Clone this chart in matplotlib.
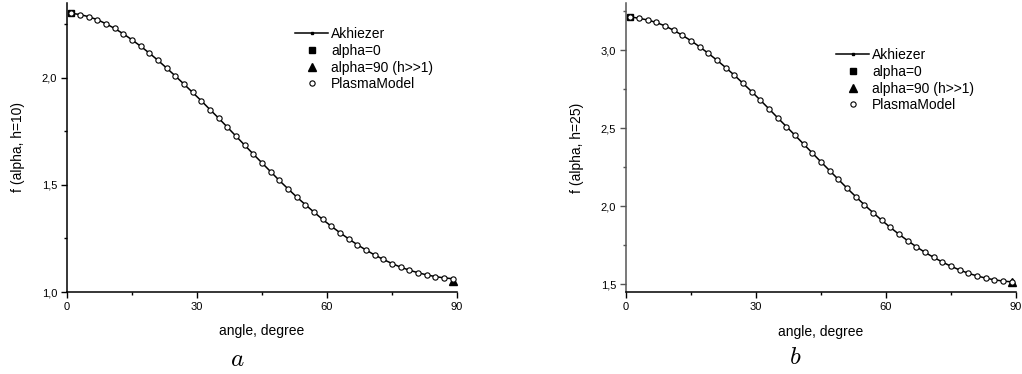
"""Two panels: f(alpha, h) vs angle for h=10 and h=25."""
import matplotlib
matplotlib.use("Agg")
import matplotlib.pyplot as plt
import numpy as np

plt.rcParams["font.family"] = ["Liberation Sans", "DejaVu Sans"]

# angles of the computed points (degrees)
angle = [1, 3, 5, 7, 9, 11, 13, 15, 17, 19, 21, 23, 25, 27, 29, 31, 33, 35,
         37, 39, 41, 43, 45, 47, 49, 51, 53, 55, 57, 59, 61, 63, 65, 67, 69,
         71, 73, 75, 77, 79, 81, 83, 85, 87, 89]

# h = 10 (Akhiezer and PlasmaModel coincide on the picture)
akh_h10 = [2.302, 2.296, 2.286, 2.272, 2.253, 2.231, 2.206, 2.178, 2.148,
           2.116, 2.082, 2.046, 2.009, 1.971, 1.932, 1.893, 1.852, 1.812,
           1.770, 1.728, 1.686, 1.644, 1.603, 1.562, 1.521, 1.482, 1.444,
           1.408, 1.373, 1.339, 1.307, 1.277, 1.248, 1.221, 1.196, 1.173,
           1.152, 1.133, 1.116, 1.102, 1.090, 1.080, 1.072, 1.066, 1.062]
plasma_h10 = list(akh_h10)

# h = 25
akh_h25 = [3.213, 3.204, 3.193, 3.177, 3.155, 3.127, 3.095, 3.060, 3.021,
           2.979, 2.935, 2.888, 2.839, 2.787, 2.734, 2.679, 2.623, 2.566,
           2.510, 2.454, 2.397, 2.340, 2.283, 2.227, 2.171, 2.115, 2.061,
           2.008, 1.958, 1.909, 1.863, 1.819, 1.778, 1.739, 1.703, 1.671,
           1.641, 1.614, 1.590, 1.569, 1.552, 1.538, 1.527, 1.519, 1.514]
plasma_h25 = list(akh_h25)

# limiting cases
alpha0_x, alpha0_h10, alpha0_h25 = [1], [2.305], [3.215]
alpha90_x, alpha90_h10, alpha90_h25 = [89], [1.052], [1.511]

x_ticks = [0, 30, 60, 90]
x_ticklabels = ["0", "30", "60", "90"]
y_ticks_h10 = [1.0, 1.5, 2.0]
y_ticklabels_h10 = ["1,0", "1,5", "2,0"]
y_ticks_h25 = [1.5, 2.0, 2.5, 3.0]
y_ticklabels_h25 = ["1,5", "2,0", "2,5", "3,0"]

W, H = 1022, 374
fig = plt.figure(figsize=(W / 100, H / 100), dpi=100)


def panel(rect, akh, plasma, a0, a90, ylim, yt, ytl, ylabel, leg_xy,
          letter_xy, letter, yspine_color="black"):
    ax = fig.add_axes(rect)
    ax.plot(angle, akh, color="black", linewidth=1.1, marker="s", markersize=1.5,
            label="Akhiezer", clip_on=False, zorder=2)
    ax.plot(alpha0_x, a0, linestyle="none", marker="s", markersize=5, color="black",
            label="alpha=0", clip_on=False, zorder=3)
    ax.plot(alpha90_x, a90, linestyle="none", marker="^", markersize=5.5, color="black",
            label="alpha=90 (h>>1)", clip_on=False, zorder=3)
    ax.plot(angle, plasma, linestyle="none", marker="o", markersize=3.8,
            markerfacecolor="white", markeredgecolor="black", markeredgewidth=0.8,
            label="PlasmaModel", clip_on=False, zorder=4)

    ax.set_xlim(0, 90)
    ax.set_ylim(*ylim)
    ax.set_xticks(x_ticks)
    ax.set_xticklabels(x_ticklabels, fontsize=8)
    ax.set_xticks([15, 45, 75], minor=True)
    ax.set_yticks(yt)
    ax.set_yticklabels(ytl, fontsize=8)
    ax.set_yticks([v + 0.25 for v in yt if ylim[0] < v + 0.25 < ylim[1]] +
                  ([yt[0] - 0.25] if yt[0] - 0.25 > ylim[0] else []), minor=True)
    ax.tick_params(which="major", direction="out", length=4, width=1, pad=3)
    ax.tick_params(which="minor", direction="out", length=2.5, width=1)
    for s in ("top", "right"):
        ax.spines[s].set_visible(False)
    for s in ("left", "bottom"):
        ax.spines[s].set_linewidth(1.1)
    ax.spines["left"].set_color(yspine_color)
    ax.tick_params(axis="y", which="both", color=yspine_color)

    ax.set_xlabel("angle, degree", fontsize=10, labelpad=9)
    ax.set_ylabel(ylabel, fontsize=10, labelpad=12)

    ax.legend(loc="upper left", bbox_to_anchor=(leg_xy[0] / W, 1 - leg_xy[1] / H),
              bbox_transform=fig.transFigure, frameon=False, fontsize=10,
              handlelength=2.4, handletextpad=0.2, labelspacing=0.2,
              borderpad=0, borderaxespad=0, markerscale=1.0)

    fig.text(letter_xy[0] / W, 1 - letter_xy[1] / H, letter, fontsize=18,
             math_fontfamily="cm", ha="center", va="center")
    return ax


panel([67 / W, 1 - 292 / H, 390 / W, 289 / H], akh_h10, plasma_h10,
      alpha0_h10, alpha90_h10, (1.0, 2.35), y_ticks_h10, y_ticklabels_h10,
      "f (alpha, h=10)", (295, 27), (237, 359), r"$a$")
panel([626 / W, 1 - 292.3 / H, 390 / W, 289 / H], akh_h25, plasma_h25,
      alpha0_h25, alpha90_h25, (1.447, 3.30), y_ticks_h25, y_ticklabels_h25,
      "f (alpha, h=25)", (836, 48), (795, 357), r"$b$", yspine_color="#555555")

fig.savefig("out.png", dpi=100)
